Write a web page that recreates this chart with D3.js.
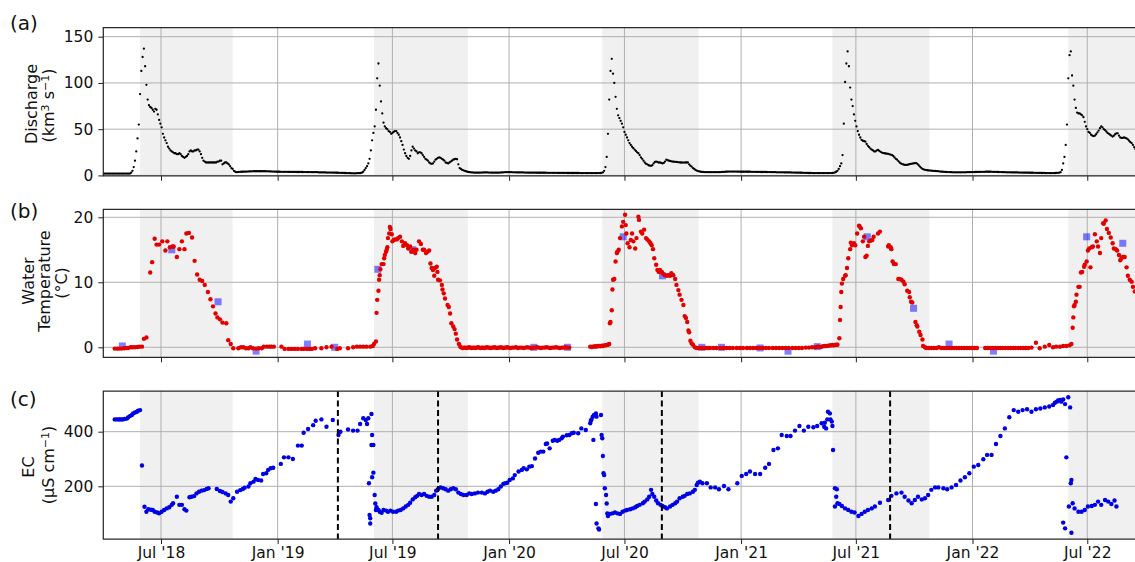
<!DOCTYPE html>
<html>
<head>
<meta charset="utf-8">
<script src="https://cdn.jsdelivr.net/npm/d3@7"></script>
<style>
  html, body { margin: 0; padding: 0; background: #fff; }
  svg { display: block; font-family: "DejaVu Sans", sans-serif; }
</style>
</head>
<body>
<svg id="chart" width="1135" height="562"></svg>
<script>
// ---------------------------------------------------------------
// Data. Days are counted from 1 April 2018 (day 0).
// ---------------------------------------------------------------
const recordStart = Date.UTC(2018, 3, 1);

// Daily discharge (km3/s) sampled every 2 days; each run = [first day, values]
const dischargeStepDays = 2;
const dischargeRuns = [
  [0,    [2,2,2,2,2,2,2,2,2,2,2,2,2,2,2,2,2,2,2,2,2,2]],
  [44,   [3,5,9,16,26,40,55,88,113,128,137,118,98,82]],
  [72,   [76,74,73,71,69,72,71,66,60,56,52,45,41,38,35,31,29,27,26,25,24,24,23,23]],
  [120,  [24,23,21,20,19,20,21,23,26,27,26,26,27,27,28,28,26,23,19,16]],
  [160,  [15,14,14,14,14,14,14,14,14,14,15,15,16,16,12,13,14,14,13,12,10,8,7,5,4,3.5,3.5]],
  [214,  [3.8,3.9,4,4,4.1,4.1,4.2,4.2,4.3,4.3,4.4,4.4,4.5,4.5,4.5,4.5,4.5,4.5,4.5,4.5,4.5,4.5,4.4,4.4,4.3,4.3,4.2,4.2,4.1,4.1,4,4,4]],
  [280,  [3.9,3.9,3.9,3.9,3.9,3.9,3.8,3.8,3.8,3.8,3.8,3.8,3.7,3.7,3.7,3.7,3.7,3.7,3.6,3.6,3.6,3.6,3.6,3.6,3.5,3.5,3.5,3.5,3.5,3.5,3.3,3.3,3.3,3.3,3.3,3.3,3.1,3.1,3.1,3.1,3.1,3.1]],
  [364,  [3,3,2.9,2.9,2.8,2.8,2.7,2.7,2.6,2.6,2.5,2.5,2.4,2.4,2.3,2.3,2.3,2.3,2.4,2.4,2.5,2.6]],
  [408,  [3,4,6,8,10,13,18,27,38,46,53,71,105,121,97,80,67,57]],
  [444,  [53,51,50,48,47,45,46,47,48,48,46,44,41,37,33,28,24,21,19,18,21,27,31,29]],
  [492,  [27,26,24,25,25,24,22,20,18,17,16,14,13,12.5,13,15,17,18,19,19.5,19,18,17,16,14,13.5,13,14,15,16,17,17.5,18,17.5,12,8]],
  [564,  [7,6,5.5,5,4.5,4,3.7,3.5,3.3,3.2,3.1,3,3,3,3,3]],
  [596,  [3.1,3.1,3.2,3.2,3.2,3.2,3.1,3.1,3,3,3,3,3,3,3,3.1,3.2,3.3,3.4,3.5,3.5,3.5,3.5]],
  [642,  [3.5,3.5,3.4,3.4,3.4,3.3,3.3,3.3,3.2,3.2,3.2,3.1,3.1,3.1,3,3,3,3,3,3,3]],
  [684,  [2.9,2.9,2.9,2.9,2.9,2.9,2.9,2.9,2.8,2.8,2.8,2.8,2.8,2.8,2.8,2.8,2.7,2.7,2.7,2.7,2.7,2.7,2.7,2.7,2.6,2.6,2.6,2.6,2.6,2.6,2.6,2.6,2.6,2.6,2.5,2.5,2.5,2.5,2.5,2.5,2.5,2.5,2.5,2.5,2.5,2.5,2.5,2.5,2.5,2.5,2.6,2.8,3.2]],
  [790,  [5,9,20,45,82,113,126,110,100,85,72,65,62,59,56,52]],
  [822,  [47,44,41,38,35,33,31,29.5,28,26.5,25,24,22,19.5,18,16,14,12.5,12,11,10.5,10.4,11,13,14.5,15,14.5,14,14,13.5]],
  [882,  [13,13.5,15,17,16.5,16,15.6,15.3,15,14.8,14.7,14.6,14.4,14.2,14,14,13.9,13.9,14,14,14,12,10.5,9.6,8,7,6,5.2,4.7,4.3,4,3.8]],
  [946,  [3.7,3.6,3.6,3.5,3.5,3.5,3.5,3.5,3.5,3.5,3.5,3.5,3.5,3.5,
          3.6,3.7,3.8,3.9,4,4.1,4.2,4.2,4.2,4.2,4.2,4.2,4.2,
          4.1,4.1,4.1,4,4,4,4,4,4,4,4,
          3.9,3.9,3.9,3.8,3.8,3.8,3.8,3.7,3.7,3.7,3.7,3.7,3.7,
          3.6,3.6,3.6,3.5,3.5,3.5,3.5,3.4,3.4,3.4,3.4,3.4,3.4,
          3.3,3.3,3.3,3.2,3.2,3.2,3.1,3.1,3.1,3,3,3,3,
          2.9,2.9,2.8,2.8,2.7,2.7,2.6,2.6,2.6,2.5,2.5,2.5,2.5,
          2.5,2.5,2.5,2.5,2.5,2.5,2.5,2.5,2.5,2.5,2.5,2.5,2.6,2.8,3.2]],
  [1156, [4,5,7,10,13,22,56,101,121,134,118,95,82,75,66,59,53,48,44,41,38.5,37.5]],
  [1200, [37,36.5,34,32,30.5,29,28,27,26,26,27,27.6,26.5,25.5,24.7,24.2,24,23.7,23.5,23.2,22.8,22.4,22,21,19.5,18,17,15.5,14,13,12.3,11.8,11.5,11.4,11.5,11.8,12.2,12.5,12.8,13,13.2,13.3,12.5,11,9.6,8.2,7,6.5,6.1,5.8,5.6,5.4,5.3]],
  [1306, [5.1,5,4.9,4.8,4.7,4.6,4.4,4.2,4.1,4,3.9,3.8,3.7,
          3.6,3.6,3.5,3.5,3.4,3.4,3.4,3.4,3.4,3.4,3.4,3.4,3.4,3.4,3.4,
          3.5,3.5,3.5,3.6,3.6,3.6,3.7,3.7,3.7,3.8,3.8,3.8,3.9,3.9,3.9,4,4,4,4,
          4,3.9,3.9,3.8,3.8,3.7,3.7,3.6,3.6,3.5,3.5,3.5,3.4,3.4,3.4,3.4,
          3.3,3.3,3.3,3.2,3.2,3.2,3.1,3.1,3.1,3.1,3,3,3,3,2.9,2.9,2.9,2.9,
          2.8,2.8,2.8,2.7,2.7,2.7,2.6,2.6,2.6,2.5,2.5,2.5,2.5,2.5,2.5,2.5,2.5,2.6,2.7,2.8,3,3.5]],
  [1512, [6,13,20,33,55,105,130,134,108,97,82,73,68,67,67,66,65,63,58,53,50,47,46,44,43]],
  [1562, [42.5,43,44.5,46.5,48.5,51,53,52,50,49,47.5,46,45,44,43,42,43,44.5,45.5,45.5,43,41,40.5,40.5,41,40.5,40,39,37.5,36,35,33,30.5,28.5]]
];

// Logged water temperature (°C): [day, value]
const tempLogger = [
  [18,-0.2],[22,-0.2],[25,-0.2],[29,-0.2],[33,-0.15],[36,-0.1],[39,-0.1],[43,0],[46,0],[50,0],[54,0.05],[57,0.1],[61,0.1],
  [64,1.3],[68,1.5],[74,11.5],[77,13.1],[81,16.7],[84,15.8],[88,15.8],[93,16.3],[98,14.9],[101,16.3],[105,15.4],[109,15.5],
  [111,15.5],[116,13.9],[120,15.1],[124,16.3],[128,15.1],[131,17.5],[135,17.6],[140,16.9],[144,13.3],[148,11.2],[152,10.4],
  [156,10.2],[160,9.6],[165,8.5],[169,7.4],[173,6.3],[177,5.2],[180,4.6],[184,4.3],[188,3.8],[194,3.7],[197,1.1],[201,0.5],[205,-0.15],
  [213,-0.15],[217,0],[221,0],[225,-0.15],[229,-0.15],[232,0],[236,-0.15],[241,-0.2],[245,-0.15],[250,-0.15],[253,0.1],[258,0.1],
  [262,0.1],[265,0.1],[269,0.1],[281,0.1],[286,-0.25],[292,-0.25],[297,-0.25],[302,-0.25],[307,-0.25],[313,-0.25],[316,-0.25],
  [321,-0.25],[325,-0.25],[329,-0.25],[334,-0.15],[344,-0.15],[352,0],[360,0.1],[369,-0.25],[373,-0.15],[386,-0.15],[394,0],
  [400,0.1],[405,0.1],[410,0.1],[415,0.1],[421,0.1],[425,0.2],[427,0.5],[430,0.9],
  [431,5.3],[432,7.3],[434,8.7],[435,10.4],[436,11.1],[437,12],[439,12.8],[442,12.8],[443,13.7],[444,14.2],[446,14.7],[447,15],
  [448,15.4],[449,16.8],[451,17.5],[452,18.5],[453,18.2],[455,17.4],[456,16.3],[458,16.5],[460,16.6],[463,16.6],[465,16.8],
  [468,17],[471,16.3],[473,15.6],[476,16],[479,15.7],[481,15.2],[484,15.5],[486,14.7],[489,15],[492,14.5],[494,15],[498,16.3],
  [501,15.9],[504,15],[506,15],[509,14.5],[511,14.7],[514,14.9],[516,12.9],[518,12.2],[520,11.9],[522,11],[523,12.2],[526,12.4],
  [527,11.6],[528,10.4],[531,10.3],[534,9.6],[535,8.9],[537,8.3],[539,7.5],[543,6.5],[545,6.2],[547,5.2],[549,3.7],[552,3.2],
  [554,2.8],[556,2.1],[558,1.2],[561,0.5],[563,0.1],
  [565,-0.05],[567,-0.1],[569,-0.05],[571,-0.05],[573,-0.1],[575,-0.05],[577,0],[579,-0.05],[581,-0.1],[583,-0.05],[585,-0.05],
  [587,-0.1],[589,-0.05],[591,0],[593,-0.05],[595,-0.1],[597,-0.05],[599,-0.05],[601,-0.1],[603,-0.05],[605,0],[607,-0.05],
  [609,-0.05],[611,-0.1],[613,-0.05],[615,-0.05],[617,0],[619,-0.05],[621,-0.1],[623,-0.05],[625,-0.05],[627,0],[629,-0.05],
  [631,-0.1],[633,-0.05],[635,-0.05],[637,0],[639,-0.05],
  [642,-0.1],[645,-0.05],[648,-0.05],[651,0],[654,-0.1],[657,-0.05],[660,-0.05],[663,-0.1],[666,-0.05],[669,0],[672,-0.05],
  [675,-0.1],[678,-0.05],[681,-0.05],[684,0],[687,-0.05],[690,-0.1],[693,-0.05],[696,-0.05],[699,0],[702,-0.05],[705,-0.1],
  [708,-0.05],[711,-0.05],[714,0],[717,-0.05],[720,-0.1],[723,-0.05],[726,-0.05],[729,0],[732,-0.05],[735,-0.05],
  [768,0.1],[770,0.05],[772,0.1],[774,0.1],[776,0.15],[778,0.1],[780,0.2],[782,0.2],[784,0.15],[786,0.25],[788,0.2],[790,0.3],
  [792,0.3],[794,0.35],[796,0.4],[798,0.5],
  [799,3.7],[800,3.9],[802,5.7],[803,8.9],[804,10.4],[806,10.5],[808,13.2],[810,14.5],[811,14.7],[813,15],[815,16.8],[818,18.6],
  [820,19.3],[823,20.4],[824,18.8],[825,17.5],[827,16],[830,15.4],[832,16.5],[834,17.5],[836,16.3],[839,15.2],[841,16.8],
  [844,20.1],[845,19.6],[848,17.8],[850,17.5],[853,18.1],[856,16.8],[858,16.6],[861,16.3],[863,16],[865,15.7],[867,15.1],
  [869,13.7],[872,12.7],[874,11.9],[876,11.6],[878,11.9],[881,11.6],[883,11.3],[886,11.1],[889,11],[891,11.1],[894,11],
  [896,11.4],[899,11.1],[902,10.5],[904,9.6],[907,8.8],[909,8.1],[912,7.3],[915,6.5],[917,4.8],[919,4.5],[921,3.9],[923,2.6],
  [924,2.3],[926,1],[928,0.6],[930,0.4],[933,0],
  [936,-0.1],[939,-0.1],[941,-0.1],[944,-0.1],[946,-0.1],[949,-0.1],[952,-0.1],[954,-0.1],[957,-0.1],[962,-0.1],[967,-0.1],
  [973,-0.1],[978,-0.1],[983,-0.1],[988,-0.1],[993,-0.1],[999,-0.1],[1004,-0.1],[1009,-0.1],[1015,-0.1],[1020,-0.1],[1025,-0.1],
  [1030,-0.1],[1035,-0.1],[1040,-0.1],[1045,-0.1],[1050,-0.1],[1056,-0.1],[1061,-0.1],[1066,-0.1],[1071,-0.1],[1076,-0.1],
  [1081,-0.1],[1087,-0.1],[1092,-0.1],[1097,-0.1],[1102,-0.1],[1108,-0.05],[1113,-0.05],[1118,0],[1123,0],[1126,0.1],[1129,0.1],
  [1132,0.05],[1135,0.15],[1138,0.2],[1141,0.2],[1144,0.25],[1146,0.3],[1148,0.3],[1150,0.35],[1152,0.3],[1154,0.35],[1156,0.4],[1158,0.4],
  [1161,1.4],[1162,4.2],[1163,6.2],[1164,8.5],[1165,9.8],[1167,10.5],[1170,11],[1171,11.1],[1173,12.2],[1175,13.7],[1178,15.1],
  [1179,16.1],[1181,15.7],[1184,16],[1186,15.7],[1189,17.5],[1192,18.7],[1193,18.6],[1195,18.3],[1198,16.3],[1200,17],[1202,13.9],
  [1204,14.1],[1206,15.6],[1208,16.3],[1210,16.4],[1213,16.5],[1215,17],[1222,17.5],[1225,17.8],[1238,15.5],[1239,15.7],
  [1242,15.4],[1243,15.1],[1245,13.2],[1247,12.8],[1250,12.8],[1254,10.5],[1256,10.5],[1259,10.4],[1262,10.1],[1264,9.7],
  [1268,8.7],[1271,8.5],[1272,7.7],[1274,7],[1276,6.9],[1281,3.9],[1283,3.4],[1284,3.2],[1287,2.4],[1289,1.9],[1292,1.2],
  [1293,0.2],[1296,0],
  [1298,-0.1],[1302,-0.1],[1306,-0.1],[1310,-0.1],[1314,-0.1],[1318,0],[1322,-0.1],[1326,-0.1],[1330,-0.1],[1334,-0.1],
  [1338,-0.1],[1342,-0.1],[1346,-0.1],[1350,-0.1],[1354,-0.1],[1358,-0.1],[1362,-0.1],[1366,-0.1],[1370,-0.1],[1374,-0.1],[1378,-0.1],
  [1391,-0.1],[1395,-0.1],[1399,-0.1],[1403,-0.1],[1407,-0.1],[1411,-0.1],[1415,-0.1],[1419,-0.1],[1423,-0.1],[1427,-0.1],
  [1431,-0.1],[1435,-0.1],[1439,-0.1],[1443,-0.1],[1447,-0.1],[1451,-0.1],[1455,-0.1],[1459,-0.1],[1464,-0.05],[1471,0.7],
  [1477,-0.15],[1485,0.1],[1492,0.35],[1498,0],[1503,0.1],[1509,0.1],[1514,0.2],[1519,0.2],[1524,0.3],[1527,0.5],
  [1529,3],[1530,4.6],[1531,6.3],[1532,6.5],[1534,7],[1535,8.1],[1538,9.3],[1540,9.3],[1542,11.5],[1544,11.6],[1547,12.4],
  [1548,12.7],[1551,13.2],[1553,14.9],[1555,15.2],[1557,12.3],[1559,15.4],[1561,15.5],[1564,17.4],[1567,16.3],[1569,15.5],
  [1572,14.5],[1574,16.8],[1577,19.1],[1578,19],[1581,19.5],[1583,18.2],[1586,17.6],[1589,16.9],[1592,16],[1594,15.2],
  [1597,15.1],[1599,14.9],[1602,14.2],[1604,13.4],[1606,13.7],[1608,13.9],[1611,13.9],[1614,12.3],[1616,11],[1619,10.4],
  [1622,10.1],[1624,9.3],[1627,8.6]
];

// Spot measurements of water temperature (°C)
const tempManual = [
  ["2018-05-01",0.2],["2018-07-18",15],["2018-09-29",7],["2018-11-28",-0.6],["2019-02-17",0.5],["2019-04-01",0],
  ["2019-06-08",12],["2019-08-02",15],["2020-02-09",0],["2020-04-02",0],["2020-06-29",17],["2020-08-30",11],
  ["2020-10-31",0],["2020-12-01",0],["2021-01-31",-0.1],["2021-03-16",-0.6],["2021-05-01",0.1],["2021-07-19",17],
  ["2021-09-30",6],["2021-11-25",0.5],["2022-02-03",-0.6],["2022-06-30",17],["2022-08-26",16]
];

// Electrical conductivity (µS/cm): [day, value]
const ecSeries = [
  [18,445],[21,445],[24,445],[26,445],[29,445],[31,445],[34,447],[37,448],[39,452],[42,457],[45,461],[47,467],[50,470],[53,473],
  [55,477],[58,479],
  [61,276],[65,125],[68,107],[71,116],[75,114],[78,113],[81,107],[85,104],[88,101],[92,107],[96,113],[100,119],[104,123],
  [108,132],[110,138],[116,162],[120,132],[124,132],[128,116],[131,111],[136,160],[139,162],[143,164],[147,174],[151,180],
  [155,184],[159,186],[163,190],[166,193],[179,190],[184,183],[188,179],[193,174],[197,168],[201,144],[205,156],[211,180],
  [216,186],[220,190],[223,195],[229,199],[232,211],[237,217],[240,227],[244,223],[249,221],[252,245],[257,248],[260,260],
  [264,266],[268,268],[280,282],[285,306],[292,306],[299,300],[307,349],[313,349],[316,396],[323,410],[331,424],[335,440],
  [344,445],[352,418],[362,443],[371,388],[374,400],[386,408],[394,404],[401,404],[405,428],[410,449],[414,443],[416,428],
  [418,449],[423,465],
  [424,388],[423,351],[426,351],[419,211],[424,233],[426,250],[428,168],[429,137],[430,113],[420,95],[421,64],[421,83],
  [431,123],[434,113],[436,107],[439,103],[442,113],[446,111],[449,107],[453,111],[457,107],[462,107],[465,111],[469,113],
  [473,119],[477,126],[481,132],[484,140],[488,152],[492,160],[495,165],[498,172],[502,168],[506,172],[510,165],[514,162],
  [518,162],[522,168],[525,184],[528,189],[532,196],[536,193],[540,189],[544,184],[548,189],[552,193],[556,189],[560,177],
  [564,172],[568,168],[573,168],[577,174],[581,172],[586,174],[591,177],[597,177],[602,174],[606,180],[610,184],[615,180],
  [619,184],[623,189],[627,199],[631,209],[634,211],[637,213],[641,223],[646,229],[649,241],[655,254],[660,260],[663,266],
  [668,262],[672,272],[676,274],[681,302],[686,323],[690,327],[694,327],[698,355],[700,357],[704,339],[709,367],[712,370],
  [716,367],[719,370],[723,376],[725,382],[731,387],[735,388],[739,394],[742,396],[749,394],[754,412],[761,406],[768,431],
  [769,440],[770,445],[772,455],[773,370],[774,461],[777,467],[777,135],[778,455],[778,64],[781,46],[782,42],[785,461],
  [786,388],[787,376],[788,311],[789,248],[790,241],[791,193],[793,168],[794,137],[795,101],[796,91],[799,99],[803,101],
  [807,104],[811,101],[815,99],[819,107],[823,111],[826,113],[831,116],[835,119],[839,123],[842,128],[846,132],[851,138],
  [854,144],[858,152],[861,162],[864,187],[866,172],[869,162],[872,148],[875,138],[879,132],[882,128],[886,123],[889,119],
  [894,126],[898,132],[902,138],[905,144],[909,156],[914,162],[917,165],[921,172],[925,174],[930,180],[933,187],[936,205],
  [938,213],[941,217],[945,211],[952,211],[958,196],[965,196],[971,189],[979,201],[986,189],[1000,211],[1007,238],[1014,245],
  [1020,254],[1028,245],[1036,245],[1044,268],[1050,282],[1057,333],[1064,339],[1070,388],[1078,384],[1084,384],[1091,404],
  [1098,421],[1105,404],[1112,418],[1120,416],[1126,421],[1133,431],[1137,418],[1138,433],[1140,412],[1142,445],[1143,473],
  [1146,467],[1147,445],[1149,437],[1150,421],[1151,333],[1154,193],[1154,126],[1156,162],[1157,189],[1158,138],[1161,135],
  [1165,128],[1170,119],[1175,113],[1180,107],[1185,104],[1191,91],[1196,99],[1201,107],[1206,113],[1212,119],[1217,126],
  [1225,140],[1238,150],[1243,165],[1251,174],[1259,177],[1264,162],[1270,148],[1275,138],[1280,150],[1285,162],[1291,152],
  [1296,156],[1301,168],[1306,187],[1312,196],[1317,196],[1325,193],[1331,189],[1338,196],[1345,205],[1352,221],[1359,233],
  [1366,248],[1373,272],[1380,278],[1388,299],[1394,315],[1401,315],[1408,355],[1415,384],[1422,412],[1429,453],[1436,479],
  [1443,473],[1450,479],[1457,482],[1464,473],[1471,482],[1478,485],[1485,489],[1492,492],[1498,498],[1501,506],[1504,510],
  [1506,514],[1509,516],[1511,510],[1514,518],[1514,67],[1517,501],[1517,46],[1519,306],[1522,526],[1523,126],[1525,489],
  [1526,211],[1527,223],[1527,30],[1529,138],[1532,119],[1538,107],[1543,107],[1548,113],[1553,126],[1559,128],[1564,132],
  [1569,144],[1574,132],[1580,150],[1585,144],[1590,135],[1595,148],[1598,126]
];

// Event markers drawn as dashed lines in panel (c)
const ecEventDates = ["2019-04-06", "2019-09-11", "2020-08-29", "2021-08-24"];

// Open-water seasons (shaded)
const openWaterPeriods = [
  ["2018-05-29", "2018-10-22"],
  ["2019-06-02", "2019-10-28"],
  ["2020-05-27", "2020-10-26"],
  ["2021-05-25", "2021-10-25"],
  ["2022-06-01", "2022-10-15"]
];

// Axis ticks
const xTickDates  = ["2018-07-01","2019-01-01","2019-07-01","2020-01-01","2020-07-01","2021-01-01","2021-07-01","2022-01-01","2022-07-01"];
const xTickLabels = ["Jul '18","Jan '19","Jul '19","Jan '20","Jul '20","Jan '21","Jul '21","Jan '22","Jul '22"];
const dischargeTicks = [0, 50, 100, 150];
const tempTicks = [0, 10, 20];
const ecTicks = [200, 400];

// ---------------------------------------------------------------
// Layout
// ---------------------------------------------------------------
const parseDate = d3.utcParse("%Y-%m-%d");
const dayToDate = d => new Date(recordStart + d * 864e5);

const plotLeft = 103.3, plotRight = 1141.8;
const x = d3.scaleUtc()
  .domain([dayToDate(0), dayToDate(1638)])
  .range([plotLeft, plotRight]);

const svg = d3.select("#chart");
const defs = svg.append("defs");

const panels = [
  { id: "a", top: 27.7,  bottom: 175.8, domain: [-0.4, 159.7], ticks: dischargeTicks, tag: "(a)", tagY: 30,
    label: [{ parts: [["Discharge"]], x: 37.3, y: 104 },
            { parts: [["(km"], ["3", "sup"], [" s"], ["\u22121", "sup"], [")"]], x: 54, y: 105.5 }] },
  { id: "b", top: 209.3, bottom: 357.3, domain: [-1.54, 21.23], ticks: tempTicks, tag: "(b)", tagY: 217.5,
    label: [{ parts: [["Water"]], x: 33.5, y: 281 },
            { parts: [["Temperature"]], x: 50, y: 281 },
            { parts: [["(\u00b0C)"]], x: 66.5, y: 283 }] },
  { id: "c", top: 391,   bottom: 539,   domain: [7, 549], ticks: ecTicks, tag: "(c)", tagY: 405.5,
    label: [{ parts: [["EC"]], x: 33.8, y: 467 },
            { parts: [["(\u00b5S cm"], ["\u22121", "sup"], [")"]], x: 53.8, y: 465 }] }
];

function setupPanel(p) {
  const y = d3.scaleLinear().domain(p.domain).range([p.bottom, p.top]);
  defs.append("clipPath").attr("id", "clip-" + p.id)
    .append("rect")
    .attr("x", plotLeft).attr("y", p.top)
    .attr("width", plotRight - plotLeft).attr("height", p.bottom - p.top);

  const g = svg.append("g");
  const body = g.append("g").attr("clip-path", `url(#clip-${p.id})`);

  // shaded open-water seasons
  body.append("g").selectAll("rect").data(openWaterPeriods).join("rect")
    .attr("x", d => x(parseDate(d[0])))
    .attr("width", d => x(parseDate(d[1])) - x(parseDate(d[0])))
    .attr("y", p.top).attr("height", p.bottom - p.top)
    .attr("fill", "#f0f0f0");

  // grid
  const grid = body.append("g").attr("stroke", "#b0b0b0").attr("stroke-width", 1);
  grid.selectAll("line.v").data(xTickDates).join("line").attr("class", "v")
    .attr("x1", d => x(parseDate(d))).attr("x2", d => x(parseDate(d)))
    .attr("y1", p.top).attr("y2", p.bottom);
  grid.selectAll("line.h").data(p.ticks).join("line").attr("class", "h")
    .attr("x1", plotLeft).attr("x2", plotRight)
    .attr("y1", d => y(d)).attr("y2", d => y(d));

  return { g, body, y };
}

function finishPanel(p, g, y, withDates) {
  const ya = g.append("g").attr("transform", `translate(${plotLeft},0)`)
    .call(d3.axisLeft(y).tickValues(p.ticks).tickSize(5).tickPadding(5));
  ya.select(".domain").remove();
  ya.attr("font-size", 15.5).attr("font-family", "DejaVu Sans, sans-serif");
  ya.selectAll("line").attr("stroke", "#222").attr("stroke-width", 1);
  ya.selectAll("text").attr("fill", "#111");

  const xa = g.append("g").attr("transform", `translate(0,${p.bottom})`)
    .call(d3.axisBottom(x).tickValues(xTickDates.map(parseDate)).tickSize(5).tickPadding(3.3)
      .tickFormat((d, i) => withDates ? xTickLabels[i] : ""));
  xa.select(".domain").remove();
  xa.attr("font-size", 15.5).attr("font-family", "DejaVu Sans, sans-serif");
  xa.selectAll("line").attr("stroke", "#222").attr("stroke-width", 1);
  xa.selectAll("text").attr("fill", "#111");

  // frame
  g.append("path")
    .attr("d", `M${plotRight},${p.top}H${plotLeft}V${p.bottom}H${plotRight}`)
    .attr("fill", "none").attr("stroke", "#2a2a2a").attr("stroke-width", 1.25);

  // panel tag
  svg.append("text").attr("x", 10).attr("y", p.tagY)
    .attr("font-size", 20).attr("fill", "#111").text(p.tag);

  // y label (multi-line, rotated)
  p.label.forEach(line => {
    const t = svg.append("text")
      .attr("transform", `translate(${line.x},${line.y}) rotate(-90)`)
      .attr("text-anchor", "middle").attr("font-size", 16).attr("fill", "#111");
    line.parts.forEach(([s, kind]) => {
      const ts = t.append("tspan").text(s);
      if (kind === "sup") ts.attr("font-size", 11).attr("baseline-shift", "45%");
    });
  });
}

// ---------------------------------------------------------------
// (a) Discharge
// ---------------------------------------------------------------
{
  const p = panels[0];
  const { g, body, y } = setupPanel(p);
  const pts = dischargeRuns.flatMap(([start, vals]) =>
    vals.map((v, k) => ({ date: dayToDate(start + k * dischargeStepDays), v })));
  body.append("g").selectAll("circle").data(pts).join("circle")
    .attr("cx", d => x(d.date)).attr("cy", d => y(d.v))
    .attr("r", 1.15).attr("fill", "#000");
  finishPanel(p, g, y, false);
}

// ---------------------------------------------------------------
// (b) Water temperature
// ---------------------------------------------------------------
{
  const p = panels[1];
  const { g, body, y } = setupPanel(p);
  const sq = 7;
  body.append("g").selectAll("rect").data(tempManual).join("rect")
    .attr("x", d => x(parseDate(d[0])) - sq / 2).attr("y", d => y(d[1]) - sq / 2)
    .attr("width", sq).attr("height", sq)
    .attr("fill", "#0000ff").attr("fill-opacity", 0.5);
  body.append("g").selectAll("circle").data(tempLogger).join("circle")
    .attr("cx", d => x(dayToDate(d[0]))).attr("cy", d => y(d[1]))
    .attr("r", 2.2).attr("fill", "#e30000");
  finishPanel(p, g, y, false);
}

// ---------------------------------------------------------------
// (c) Electrical conductivity
// ---------------------------------------------------------------
{
  const p = panels[2];
  const { g, body, y } = setupPanel(p);
  body.append("g").selectAll("circle").data(ecSeries).join("circle")
    .attr("cx", d => x(dayToDate(d[0]))).attr("cy", d => y(d[1]))
    .attr("r", 2.2).attr("fill", "#0000e6");
  body.append("g").selectAll("line").data(ecEventDates).join("line")
    .attr("x1", d => x(parseDate(d))).attr("x2", d => x(parseDate(d)))
    .attr("y1", p.top).attr("y2", p.bottom)
    .attr("stroke", "#000").attr("stroke-width", 2).attr("stroke-dasharray", "6,3.5");
  finishPanel(p, g, y, true);
}
</script>
</body>
</html>
